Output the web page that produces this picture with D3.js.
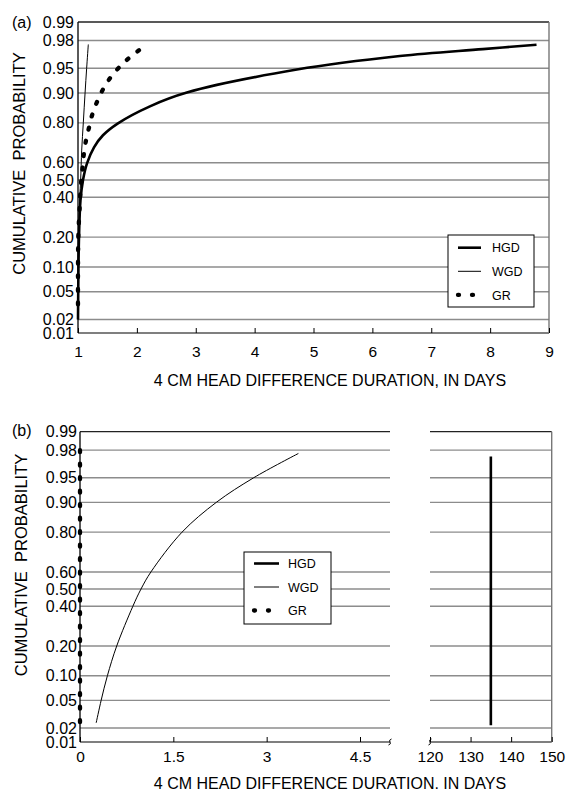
<!DOCTYPE html>
<html>
<head>
<meta charset="utf-8">
<script src="https://cdn.jsdelivr.net/npm/d3@7"></script>
<style>
  body { margin: 0; background: #fff; }
  text { font-family: "Liberation Sans", Arial, Helvetica, sans-serif; fill: #000; }
</style>
</head>
<body>
<svg id="chart"></svg>
<script>
const width = 570;
const height = 795;

// probability ticks (normal probability axis)
const yTicks = [0.01, 0.02, 0.05, 0.10, 0.20, 0.40, 0.50, 0.60, 0.80, 0.90, 0.95, 0.98, 0.99];

// x ticks
const xTicksA = [1, 2, 3, 4, 5, 6, 7, 8, 9];
const xTicksBLeft = [0, 1.5, 3, 4.5];
const xTicksBRight = [120, 130, 140, 150];

const legendKeys = ["HGD", "WGD", "GR"];

// panel (a) series: [days, cumulative probability]
const hgdA = [[1.0, 0.02], [1.008, 0.1], [1.017, 0.2], [1.042, 0.382], [1.085, 0.5], [1.153, 0.597], [1.272, 0.685],
  [1.424, 0.745], [1.679, 0.798], [2.222, 0.861], [2.85, 0.901], [4.718, 0.948], [6.467, 0.966],
  [7.876, 0.973], [8.788, 0.9768]];
const wgdA = [[1.0, 0.02], [1.003, 0.1], [1.01, 0.2], [1.03, 0.4], [1.045, 0.5], [1.063, 0.67], [1.09, 0.8],
  [1.12, 0.9], [1.147, 0.95], [1.175, 0.977]];
const grA = [[2.036, 0.972], [1.854, 0.963], [1.684, 0.95], [1.543, 0.933], [1.424, 0.909], [1.323, 0.875],
  [1.243, 0.833], [1.187, 0.78], [1.136, 0.72], [1.10, 0.65], [1.08, 0.58], [1.056, 0.5], [1.039, 0.42],
  [1.029, 0.345], [1.017, 0.28], [1.005, 0.2], [1.0, 0.1], [1.0, 0.025]];

// panel (b) series
const hgdB = [[135, 0.022], [135, 0.975]];
const wgdB = [[0.26, 0.024], [0.34, 0.05], [0.44, 0.1], [0.59, 0.2], [0.85, 0.4], [0.98, 0.5], [1.14, 0.6],
  [1.64, 0.8], [2.19, 0.9], [2.79, 0.95], [3.51, 0.9775]];
const grB = [[0, 0.98], [0, 0.02]];

// inverse normal cdf (Acklam)
function probit(p) {
  const a = [-3.969683028665376e+01, 2.209460984245205e+02, -2.759285104469687e+02, 1.383577518672690e+02, -3.066479806614716e+01, 2.506628277459239e+00];
  const b = [-5.447609879822406e+01, 1.615858368580409e+02, -1.556989798598866e+02, 6.680131188771972e+01, -1.328068155288572e+01];
  const c = [-7.784894002430293e-03, -3.223964580411365e-01, -2.400758277161838e+00, -2.549732539343734e+00, 4.374664141464968e+00, 2.938163982698783e+00];
  const d = [7.784695709041462e-03, 3.224671290700398e-01, 2.445134137142996e+00, 3.754408661907416e+00];
  const pl = 0.02425;
  let q, r;
  if (p < pl) {
    q = Math.sqrt(-2 * Math.log(p));
    return (((((c[0]*q+c[1])*q+c[2])*q+c[3])*q+c[4])*q+c[5]) / ((((d[0]*q+d[1])*q+d[2])*q+d[3])*q+1);
  }
  if (p <= 1 - pl) {
    q = p - 0.5; r = q * q;
    return (((((a[0]*r+a[1])*r+a[2])*r+a[3])*r+a[4])*r+a[5])*q / (((((b[0]*r+b[1])*r+b[2])*r+b[3])*r+b[4])*r+1);
  }
  q = Math.sqrt(-2 * Math.log(1 - p));
  return -(((((c[0]*q+c[1])*q+c[2])*q+c[3])*q+c[4])*q+c[5]) / ((((d[0]*q+d[1])*q+d[2])*q+d[3])*q+1);
}

const styles = {
  HGD: { width: 2.6, dash: null },
  WGD: { width: 1, dash: null },
  GR:  { width: 4.3, dash: "2,11.5" }
};

const svg = d3.select("#chart")
  .attr("width", width)
  .attr("height", height)
  .attr("viewBox", [0, 0, width, height]);

svg.append("rect").attr("width", width).attr("height", height).attr("fill", "#fff");

function drawPanel(opt) {
  const g = svg.append("g");
  const y = d3.scaleLinear()
    .domain([probit(0.02), probit(0.99)])
    .range([opt.y02, opt.top]);
  const yp = p => y(probit(p));

  const xs = opt.segments.map(s => d3.scaleLinear().domain(s.domain).range(s.range));

  // gridlines, top border and bottom axis line for each x segment
  opt.segments.forEach(s => {
    g.append("g").selectAll("line")
      .data(yTicks.filter(p => p > 0.01 && p < 0.99))
      .join("line")
      .attr("x1", s.gridFrom).attr("x2", s.gridTo)
      .attr("y1", d => yp(d)).attr("y2", d => yp(d))
      .attr("stroke", "#8c8c8c").attr("stroke-width", 1.4);
    g.append("line")
      .attr("x1", s.gridFrom).attr("x2", s.gridTo)
      .attr("y1", opt.top).attr("y2", opt.top)
      .attr("stroke", "#222").attr("stroke-width", 1.3);
    g.append("line")
      .attr("x1", s.gridFrom).attr("x2", s.gridTo)
      .attr("y1", opt.bottom).attr("y2", opt.bottom)
      .attr("stroke", "#000").attr("stroke-width", 1.2);
  });

  // right border
  g.append("line")
    .attr("x1", opt.right).attr("x2", opt.right)
    .attr("y1", opt.top).attr("y2", opt.bottom)
    .attr("stroke", "#777").attr("stroke-width", 1.4);

  // left axis
  g.append("line")
    .attr("x1", opt.left).attr("x2", opt.left)
    .attr("y1", opt.top).attr("y2", opt.bottom)
    .attr("stroke", "#000").attr("stroke-width", 1.3);

  // y tick labels (0.01 sits on the bottom axis)
  g.append("g").selectAll("text")
    .data(yTicks)
    .join("text")
    .attr("x", opt.left - opt.yLabelGap)
    .attr("y", d => Math.min(yp(d), opt.bottom) + 5.6)
    .attr("text-anchor", "end")
    .style("font-size", "16px")
    .text(d => d3.format(".2f")(d));

  // x axes (ticks pointing up into the plot)
  opt.segments.forEach((s, i) => {
    const ax = g.append("g")
      .attr("transform", `translate(0,${opt.bottom})`)
      .call(d3.axisBottom(xs[i])
        .tickValues(s.ticks)
        .tickFormat(d3.format("~g"))
        .tickSizeInner(-5)
        .tickSizeOuter(0)
        .tickPadding(opt.xLabelPad));
    ax.select(".domain").remove();
    ax.selectAll(".tick line").attr("stroke", "#000").attr("stroke-width", 1);
    ax.selectAll(".tick text")
      .style("font-family", "\"Liberation Sans\", Arial, Helvetica, sans-serif")
      .style("font-size", "15.5px")
      .attr("fill", "#000");
  });

  // axis break marks
  (opt.breaks || []).forEach(bx => {
    g.append("path")
      .attr("d", `M${bx - 1.5},${opt.bottom + 3} q3,-1 1.5,-3 q-1.5,-2 1.5,-3`)
      .attr("fill", "none").attr("stroke", "#000").attr("stroke-width", 1);
  });

  // series
  opt.series.forEach(sr => {
    const x = xs[sr.seg];
    const st = styles[sr.key];
    const line = d3.line()
      .x(d => x(d[0]))
      .y(d => yp(d[1]))
      .curve(d3.curveCatmullRom.alpha(0.5));
    g.append("path")
      .datum(sr.values)
      .attr("fill", "none")
      .attr("stroke", "#000")
      .attr("stroke-width", st.width)
      .attr("stroke-linecap", st.dash ? "round" : "butt")
      .attr("stroke-dasharray", st.dash)
      .attr("d", line);
  });

  // legend
  const L = opt.legend;
  const lg = g.append("g");
  lg.append("rect")
    .attr("x", L.x).attr("y", L.y).attr("width", L.w).attr("height", L.h)
    .attr("fill", "#fff").attr("stroke", "#000").attr("stroke-width", 1);
  legendKeys.forEach((k, i) => {
    const ly = L.y + L.first + i * L.step;
    const st = styles[k];
    if (st.dash) {
      lg.append("line")
        .attr("x1", L.sx).attr("x2", L.sx + 15)
        .attr("y1", ly).attr("y2", ly)
        .attr("stroke", "#000").attr("stroke-width", 4.3)
        .attr("stroke-linecap", "round")
        .attr("stroke-dasharray", "1,13");
    } else {
      lg.append("line")
        .attr("x1", L.sx).attr("x2", L.sx + L.sw)
        .attr("y1", ly).attr("y2", ly)
        .attr("stroke", "#000").attr("stroke-width", st.width);
    }
    lg.append("text")
      .attr("x", L.tx).attr("y", ly + 4.6)
      .style("font-size", "12.5px")
      .text(k);
  });

  // titles
  g.append("text")
    .attr("x", 12).attr("y", opt.labelY)
    .style("font-size", "16px")
    .text(opt.label);

  g.append("text")
    .attr("transform", `translate(${opt.yTitleX},${opt.yTitleY}) rotate(-90)`)
    .attr("text-anchor", "middle")
    .style("font-size", "16.5px")
    .style("white-space", "pre")
    .text("CUMULATIVE  PROBABILITY");

  g.append("text")
    .attr("x", 330).attr("y", opt.xTitleY)
    .attr("text-anchor", "middle")
    .style("font-size", "16px")
    .text(opt.xTitle);
}

drawPanel({
  label: "(a)", labelY: 27.7,
  top: 22, bottom: 333, y02: 319.5, left: 78, right: 549,
  yLabelGap: 4, xLabelPad: 13.2,
  segments: [{ domain: [1, 9], range: [78, 549], ticks: xTicksA, gridFrom: 78, gridTo: 549 }],
  series: [
    { key: "HGD", seg: 0, values: hgdA },
    { key: "WGD", seg: 0, values: wgdA },
    { key: "GR", seg: 0, values: grA }
  ],
  legend: { x: 448, y: 235, w: 86, h: 72, first: 12.7, step: 23.6, sx: 458, sw: 23, tx: 492 },
  yTitleX: 25, yTitleY: 163.5,
  xTitle: "4 CM HEAD DIFFERENCE DURATION, IN DAYS", xTitleY: 385.5
});

drawPanel({
  label: "(b)", labelY: 436,
  top: 431.7, bottom: 742, y02: 728, left: 80, right: 551.7,
  yLabelGap: 3, xLabelPad: 9.4,
  segments: [
    { domain: [0, 4.5], range: [80, 360], ticks: xTicksBLeft, gridFrom: 80, gridTo: 390 },
    { domain: [120, 150], range: [430, 551.7], ticks: xTicksBRight, gridFrom: 430, gridTo: 551.7 }
  ],
  breaks: [390, 430],
  series: [
    { key: "HGD", seg: 1, values: hgdB },
    { key: "WGD", seg: 0, values: wgdB },
    { key: "GR", seg: 0, values: grB }
  ],
  legend: { x: 244, y: 552, w: 87, h: 72, first: 11.5, step: 23.5, sx: 254, sw: 25, tx: 288 },
  yTitleX: 27, yTitleY: 565,
  xTitle: "4 CM HEAD DIFFERENCE DURATION. IN DAYS", xTitleY: 788.5
});
</script>
</body>
</html>
